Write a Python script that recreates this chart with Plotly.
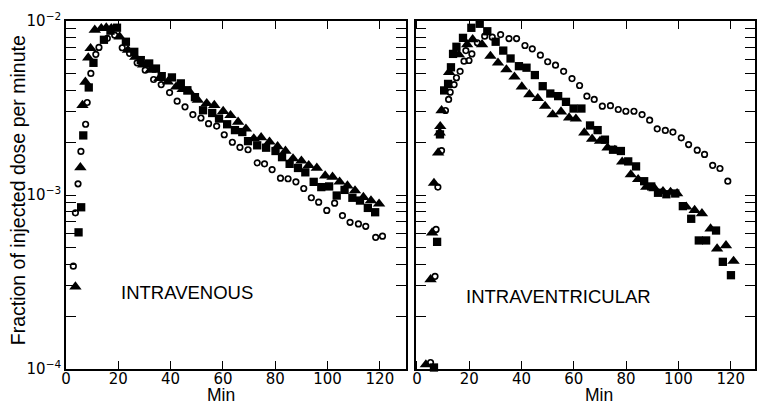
import plotly.graph_objects as go

# ---------------- data ----------------
# Left panel: INTRAVENOUS
iv_tri_t = [3.6, 5.5, 6.3, 7.4, 8.5, 9.4, 11.0, 13.5, 15.4, 17.3,
            20.5, 23.7, 26.5, 29.5, 32.3, 35.7, 38.9, 42.1, 44.6, 47.2,
            50.4, 53.8, 56.7, 60.1, 62.9, 65.8, 68.8, 71.8, 74.6, 77.8,
            80.9, 83.9, 86.8, 90.0, 92.8, 95.9, 99.1, 101.9, 104.6, 107.6,
            110.5, 113.7, 116.6, 119.7]
iv_tri_v = [2.97e-4, 1.44e-3, 3.28e-3, 4.46e-3, 6.15e-3, 6.96e-3, 8.88e-3, 9.08e-3, 9.15e-3, 9.08e-3,
            8.12e-3, 6.81e-3, 6.2e-3, 5.6e-3, 5.22e-3, 4.68e-3, 4.47e-3, 4.18e-3, 4.05e-3, 3.92e-3,
            3.51e-3, 3.36e-3, 3.28e-3, 3.03e-3, 2.87e-3, 2.63e-3, 2.4e-3, 2.11e-3, 2.14e-3, 2.02e-3,
            1.9e-3, 1.79e-3, 1.62e-3, 1.57e-3, 1.48e-3, 1.43e-3, 1.29e-3, 1.27e-3, 1.19e-3, 1.13e-3,
            1.06e-3, 9.71e-4, 9.29e-4, 8.89e-4]

iv_sq_t = [4.8, 5.8, 6.6, 8.7, 10.5, 14.5, 17.0, 19.5, 22.9, 26.1,
           28.6, 31.8, 34.4, 36.6, 40.5, 43.9, 46.4, 49.3, 52.4, 55.9,
           58.5, 61.6, 64.6, 67.4, 69.6, 73.1, 76.5, 80.1, 82.6, 85.5,
           88.7, 91.5, 94.7, 97.6, 100.6, 103.5, 106.5, 109.5, 112.4, 115.4,
           118.2]
iv_sq_v = [6.1e-4, 8.5e-4, 2.2e-3, 4.15e-3, 5.75e-3, 7.8e-3, 8.8e-3, 9.15e-3, 7.6e-3, 6.65e-3,
           5.96e-3, 5.7e-3, 5.33e-3, 4.82e-3, 4.74e-3, 4.38e-3, 4.0e-3, 3.65e-3, 3.07e-3, 2.96e-3,
           2.75e-3, 2.55e-3, 2.36e-3, 2.30e-3, 2.04e-3, 1.93e-3, 1.87e-3, 1.79e-3, 1.65e-3, 1.51e-3,
           1.43e-3, 1.35e-3, 1.19e-3, 1.11e-3, 1.12e-3, 9.93e-4, 1.07e-3, 9.64e-4, 9.29e-4, 8.43e-4,
           7.96e-4]

iv_circ_t = [2.8, 3.6, 4.6, 5.7, 7.5, 8.1, 9.5, 11.4, 12.6, 15.8,
             18.6, 21.5, 24.3, 27.2, 30.3, 33.5, 36.4, 39.6, 42.5, 45.5,
             48.5, 51.6, 54.5, 57.6, 60.5, 63.6, 66.5, 69.6, 73.1, 75.9,
             78.8, 82.0, 84.9, 87.9, 90.9, 93.8, 96.6, 99.7, 102.7, 105.7,
             108.6, 111.8, 114.6, 118.4, 121.0]
iv_circ_v = [3.9e-4, 7.9e-4, 1.16e-3, 1.78e-3, 2.55e-3, 3.4e-3, 5.0e-3, 6.43e-3, 7.05e-3, 7.95e-3,
             8.3e-3, 7.02e-3, 6.52e-3, 5.75e-3, 5.22e-3, 4.61e-3, 4.31e-3, 3.88e-3, 3.46e-3, 3.21e-3,
             2.9e-3, 2.77e-3, 2.57e-3, 2.49e-3, 2.22e-3, 2.01e-3, 1.88e-3, 1.82e-3, 1.53e-3, 1.51e-3,
             1.40e-3, 1.25e-3, 1.24e-3, 1.19e-3, 1.09e-3, 9.64e-4, 9.09e-4, 8.15e-4, 8.97e-4, 7.62e-4,
             6.97e-4, 6.82e-4, 6.61e-4, 5.71e-4, 5.8e-4]

# Right panel: INTRAVENTRICULAR
ivt_tri_t = [3.4, 5.2, 5.8, 6.5, 8.1, 8.7, 8.9, 9.4, 12.3, 16.0,
             19.2, 21.3, 24.9, 28.1, 31.0, 34.2, 37.3, 40.1, 43.0, 46.2,
             49.0, 51.9, 55.1, 58.2, 60.8, 64.0, 67.0, 70.0, 72.9, 75.7,
             78.5, 81.8, 84.6, 87.7, 90.9, 94.1, 97.0, 99.5, 103.0, 106.2,
             109.0, 112.3, 114.8, 118.2, 121.1]
ivt_tri_v = [1.06e-4, 3.27e-4, 6.07e-4, 1.17e-3, 1.75e-3, 2.28e-3, 2.48e-3, 3.06e-3, 5.08e-3, 6.41e-3,
             7.33e-3, 7.83e-3, 7.33e-3, 6.28e-3, 5.75e-3, 5.26e-3, 4.78e-3, 4.19e-3, 3.78e-3, 3.59e-3,
             3.24e-3, 2.90e-3, 3.01e-3, 2.78e-3, 2.74e-3, 2.28e-3, 2.10e-3, 2.04e-3, 1.87e-3, 1.81e-3,
             1.55e-3, 1.31e-3, 1.23e-3, 1.11e-3, 1.09e-3, 1.05e-3, 1.04e-3, 1.02e-3, 8.55e-4, 8.18e-4,
             7.83e-4, 6.40e-4, 4.91e-4, 5.13e-4, 4.17e-4]

ivt_sq_t = [6.5, 7.7, 8.8, 10.4, 11.9, 13.0, 13.8, 15.1, 17.6, 20.8,
            24.0, 26.9, 30.1, 33.0, 35.8, 39.0, 41.9, 45.1, 48.1, 51.0,
            54.0, 57.0, 59.9, 62.9, 66.2, 69.1, 71.9, 75.0, 78.0, 80.8,
            83.8, 86.9, 89.6, 92.2, 95.4, 98.8, 101.7, 104.9, 107.8, 110.6,
            114.4, 117.0, 120.1]
ivt_sq_v = [1.02e-4, 5.38e-4, 2.23e-3, 3.99e-3, 4.35e-3, 5.42e-3, 6.47e-3, 7.11e-3, 8.0e-3, 9.14e-3,
            9.64e-3, 8.73e-3, 7.6e-3, 6.76e-3, 6.09e-3, 5.5e-3, 5.39e-3, 4.89e-3, 4.22e-3, 3.83e-3,
            3.70e-3, 3.43e-3, 3.14e-3, 3.14e-3, 2.51e-3, 2.36e-3, 2.08e-3, 1.82e-3, 1.79e-3, 1.56e-3,
            1.46e-3, 1.20e-3, 1.12e-3, 1.03e-3, 1.01e-3, 1.02e-3, 8.63e-4, 7.30e-4, 5.48e-4, 5.48e-4,
            6.25e-4, 4.13e-4, 3.46e-4]

ivt_circ_t = [5.2, 6.9, 7.3, 8.0, 9.4, 10.9, 12.1, 12.7, 14.2, 15.1,
              16.5, 18.0, 18.7, 19.9, 21.0, 23.1, 25.9, 28.8, 32.0, 35.2,
              38.1, 41.3, 44.1, 47.2, 50.0, 53.0, 56.1, 59.3, 62.2, 65.0,
              67.8, 70.9, 74.0, 77.0, 79.9, 83.0, 86.1, 89.0, 91.9, 95.0,
              97.9, 101.1, 103.9, 107.2, 110.0, 113.1, 115.9, 118.9]
ivt_circ_v = [1.09e-4, 3.41e-4, 6.34e-4, 1.11e-3, 1.80e-3, 3.06e-3, 3.54e-3, 3.9e-3, 4.31e-3, 4.72e-3,
              5.14e-3, 5.88e-3, 6.76e-3, 5.93e-3, 6.47e-3, 7.5e-3, 8.18e-3, 8.07e-3, 8.36e-3, 7.93e-3,
              7.93e-3, 7.23e-3, 6.92e-3, 6.36e-3, 5.83e-3, 5.57e-3, 5.14e-3, 4.67e-3, 4.26e-3, 3.70e-3,
              3.54e-3, 3.24e-3, 3.26e-3, 3.10e-3, 3.03e-3, 3.03e-3, 2.90e-3, 2.69e-3, 2.40e-3, 2.35e-3,
              2.30e-3, 2.13e-3, 1.95e-3, 1.81e-3, 1.71e-3, 1.48e-3, 1.42e-3, 1.20e-3]

x_ticks = [0, 20, 40, 60, 80, 100, 120]
panel_labels = ["INTRAVENOUS", "INTRAVENTRICULAR"]
y_title = "Fraction of injected dose per minute"
x_title = "Min"

# ---------------- figure ----------------
fig = go.Figure()

def add_panel(xa, ya, circ_t, circ_v, sq_t, sq_v, tri_t, tri_v):
    fig.add_trace(go.Scatter(x=circ_t, y=circ_v, mode="markers", xaxis=xa, yaxis=ya,
                             cliponaxis=False,
                             marker=dict(symbol="circle-open", size=5.5, color="black",
                                         line=dict(width=1.7, color="black"))))
    fig.add_trace(go.Scatter(x=sq_t, y=sq_v, mode="markers", xaxis=xa, yaxis=ya,
                             cliponaxis=False,
                             marker=dict(symbol="square", size=8.3, color="black")))
    fig.add_trace(go.Scatter(x=tri_t, y=tri_v, mode="markers", xaxis=xa, yaxis=ya,
                             cliponaxis=False,
                             marker=dict(symbol="triangle-up", size=10.8, color="black")))

add_panel("x", "y", iv_circ_t, iv_circ_v, iv_sq_t, iv_sq_v, iv_tri_t, iv_tri_v)
add_panel("x2", "y2", ivt_circ_t, ivt_circ_v, ivt_sq_t, ivt_sq_v, ivt_tri_t, ivt_tri_v)

ytv = [k * 10.0 ** e for e in (-4, -3) for k in range(1, 10)] + [1e-2]
ytt = []
for v in ytv:
    if abs(v - 1e-4) < 1e-12:
        ytt.append("10<sup>−4</sup>")
    elif abs(v - 1e-3) < 1e-12:
        ytt.append("10<sup>−3</sup>")
    elif abs(v - 1e-2) < 1e-12:
        ytt.append("10<sup>−2</sup>")
    else:
        ytt.append(" ")

tick_font = dict(family="DejaVu Sans", size=15, color="black")

xcommon = dict(tickmode="array", tickvals=x_ticks, ticktext=[str(v) for v in x_ticks],
               ticks="inside", ticklen=8, tickwidth=1.3, tickcolor="black",
               showline=True, linecolor="black", linewidth=1.7, mirror="ticks",
               showgrid=False, zeroline=False, tickfont=tick_font,
               ticklabelstandoff=-5)
ycommon = dict(type="log", range=[-4, -2], tickmode="array", tickvals=ytv, ticktext=ytt,
               ticks="inside", ticklen=10, tickwidth=1.3, tickcolor="black",
               showline=True, linecolor="black", linewidth=1.7, mirror="ticks",
               showgrid=False, zeroline=False, tickfont=tick_font)

fig.update_layout(
    width=757, height=407,
    margin=dict(l=66, r=0, t=21, b=38),
    paper_bgcolor="white", plot_bgcolor="white",
    showlegend=False,
    xaxis=dict(domain=[0, 0.4935], range=[0, 130], anchor="y", **xcommon),
    xaxis2=dict(domain=[0.5075, 1.0], range=[-0.5, 129.3], anchor="y2", **xcommon),
    yaxis=dict(domain=[0, 1], anchor="x", showticklabels=True, **ycommon),
    yaxis2=dict(domain=[0, 1], anchor="x2", showticklabels=False, **ycommon),
    annotations=[
        dict(text=y_title, xref="paper", yref="paper", x=-0.0695, y=0.514,
             textangle=-90, showarrow=False, xanchor="center", yanchor="middle",
             font=dict(family="Liberation Sans", size=19.5, color="black")),
        dict(text=x_title, xref="paper", yref="paper", x=0.2243, y=-0.1087,
             showarrow=False, xanchor="center", yanchor="bottom",
             font=dict(family="Liberation Sans", size=17.5, color="black")),
        dict(text=x_title, xref="paper", yref="paper", x=0.7742, y=-0.1087,
             showarrow=False, xanchor="center", yanchor="bottom",
             font=dict(family="Liberation Sans", size=17.5, color="black")),
        dict(text=panel_labels[0], xref="paper", yref="paper", x=0.1751, y=0.2184,
             showarrow=False, xanchor="center", yanchor="middle",
             font=dict(family="Liberation Sans", size=18.5, color="black")),
        dict(text=panel_labels[1], xref="paper", yref="paper", x=0.7149, y=0.2069,
             showarrow=False, xanchor="center", yanchor="middle",
             font=dict(family="Liberation Sans", size=18.5, color="black")),
    ],
)

fig.write_html("out.html", config={"displayModeBar": False},
               post_script="document.body.style.margin='0';")
